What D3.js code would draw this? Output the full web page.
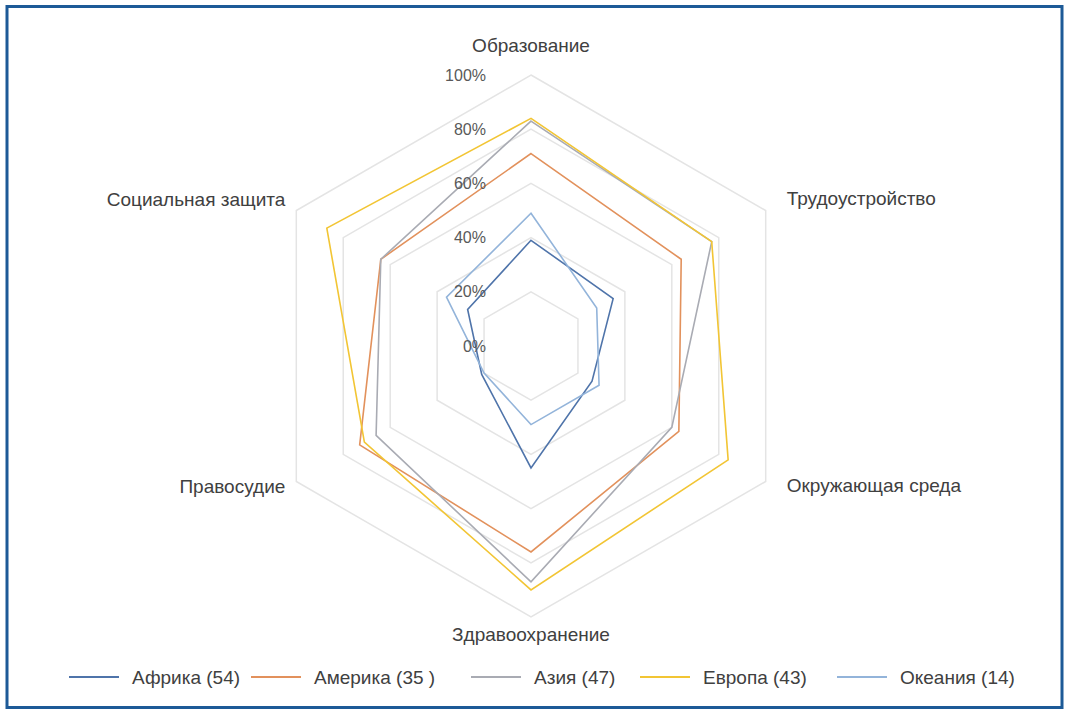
<!DOCTYPE html>
<html>
<head>
<meta charset="utf-8">
<script src="https://cdn.jsdelivr.net/npm/d3@7"></script>
<style>
  html, body { margin: 0; padding: 0; background: #fff; }
  text { font-family: "Liberation Sans", Arial, sans-serif; }
</style>
</head>
<body>
<div id="radar"></div>
<script>
// categories clockwise from the top
var axes = ["Образование", "Трудоустройство", "Окружающая среда", "Здравоохранение", "Правосудие", "Социальная защита"];
var seriesNames = ["Африка (54)", "Америка (35 )", "Азия (47)", "Европа (43)", "Океания (14)"];
var seriesColors = ["#4f74aa", "#e2915c", "#a9abb3", "#f2c534", "#93b4da"];
var africa  = [0.39, 0.35, 0.26, 0.45, 0.21, 0.27];
var america = [0.71, 0.64, 0.63, 0.76, 0.73, 0.64];
var asia    = [0.83, 0.77, 0.60, 0.87, 0.66, 0.64];
var europe  = [0.84, 0.77, 0.84, 0.90, 0.71, 0.87];
var oceania = [0.49, 0.28, 0.29, 0.29, 0.20, 0.36];
var tickValues = [0, 0.2, 0.4, 0.6, 0.8, 1.0];
var tickLabels = ["0%", "20%", "40%", "60%", "80%", "100%"];

var series = [africa, america, asia, europe, oceania];

var width = 1067, height = 713;
var cx = 531, cy = 346, R = 271;

var svg = d3.select("#radar").append("svg")
    .attr("width", width)
    .attr("height", height);

svg.append("rect")   // frame around the whole picture
    .attr("x", 7).attr("y", 6.5)
    .attr("width", 1055).attr("height", 701)
    .attr("fill", "#fff")
    .attr("stroke", "#1d5a97")
    .attr("stroke-width", 3);

var r = d3.scaleLinear().domain([0, 1]).range([0, R]);
var angle = d3.scalePoint().domain(d3.range(axes.length + 1)).range([0, 2 * Math.PI]);

var g = svg.append("g").attr("transform", "translate(" + cx + "," + cy + ")");

var radial = d3.lineRadial()
    .angle(function(d, i) { return angle(i); })
    .radius(function(d) { return r(d); })
    .curve(d3.curveLinearClosed);

// grid hexagons
g.selectAll(".grid")
    .data(tickValues.slice(1))
    .enter().append("path")
    .attr("class", "grid")
    .attr("d", function(v) { return radial(axes.map(function() { return v; })); })
    .attr("fill", "none")
    .attr("stroke", "#e4e4e4")
    .attr("stroke-width", 1.5);

// series polygons
g.selectAll(".serie")
    .data(series)
    .enter().append("path")
    .attr("class", "serie")
    .attr("d", radial)
    .attr("fill", "none")
    .attr("stroke", function(d, i) { return seriesColors[i]; })
    .attr("stroke-width", 1.6)
    .attr("stroke-linejoin", "miter");

// percentage ticks
g.selectAll(".tick")
    .data(tickValues)
    .enter().append("text")
    .attr("class", "tick")
    .attr("x", -45)
    .attr("y", function(v) { return -r(v); })
    .attr("dy", "0.35em")
    .attr("text-anchor", "end")
    .attr("font-size", 16)
    .attr("fill", "#595959")
    .text(function(v, i) { return tickLabels[i]; });

// category labels
var labelPos = [
  {dx: 0, dy: -23, anchor: "middle"},
  {dx: 21, dy: -12, anchor: "start"},
  {dx: 21, dy: 4, anchor: "start"},
  {dx: 0, dy: 24, anchor: "middle"},
  {dx: -11, dy: 5, anchor: "end"},
  {dx: -11, dy: -11, anchor: "end"}
];
g.selectAll(".axis-label")
    .data(axes)
    .enter().append("text")
    .attr("class", "axis-label")
    .attr("x", function(d, i) { return r(1) * Math.sin(angle(i)) + labelPos[i].dx; })
    .attr("y", function(d, i) { return -r(1) * Math.cos(angle(i)) + labelPos[i].dy; })
    .attr("dy", function(d, i) { return labelPos[i].anchor === "middle" ? "0" : "0.35em"; })
    .attr("text-anchor", function(d, i) { return labelPos[i].anchor; })
    .attr("font-size", 19)
    .attr("fill", "#404040")
    .text(function(d) { return d; });

// legend
var legendX = [69, 251, 471, 640, 837];
var legend = svg.selectAll(".legend")
    .data(seriesNames)
    .enter().append("g")
    .attr("class", "legend")
    .attr("transform", function(d, i) { return "translate(" + legendX[i] + ",677)"; });
legend.append("line")
    .attr("x1", 0).attr("x2", 50)
    .attr("stroke", function(d, i) { return seriesColors[i]; })
    .attr("stroke-width", 2);
legend.append("text")
    .attr("x", 63)
    .attr("dy", "0.35em")
    .attr("font-size", 19)
    .attr("fill", "#404040")
    .text(function(d) { return d; });
</script>
</body>
</html>
